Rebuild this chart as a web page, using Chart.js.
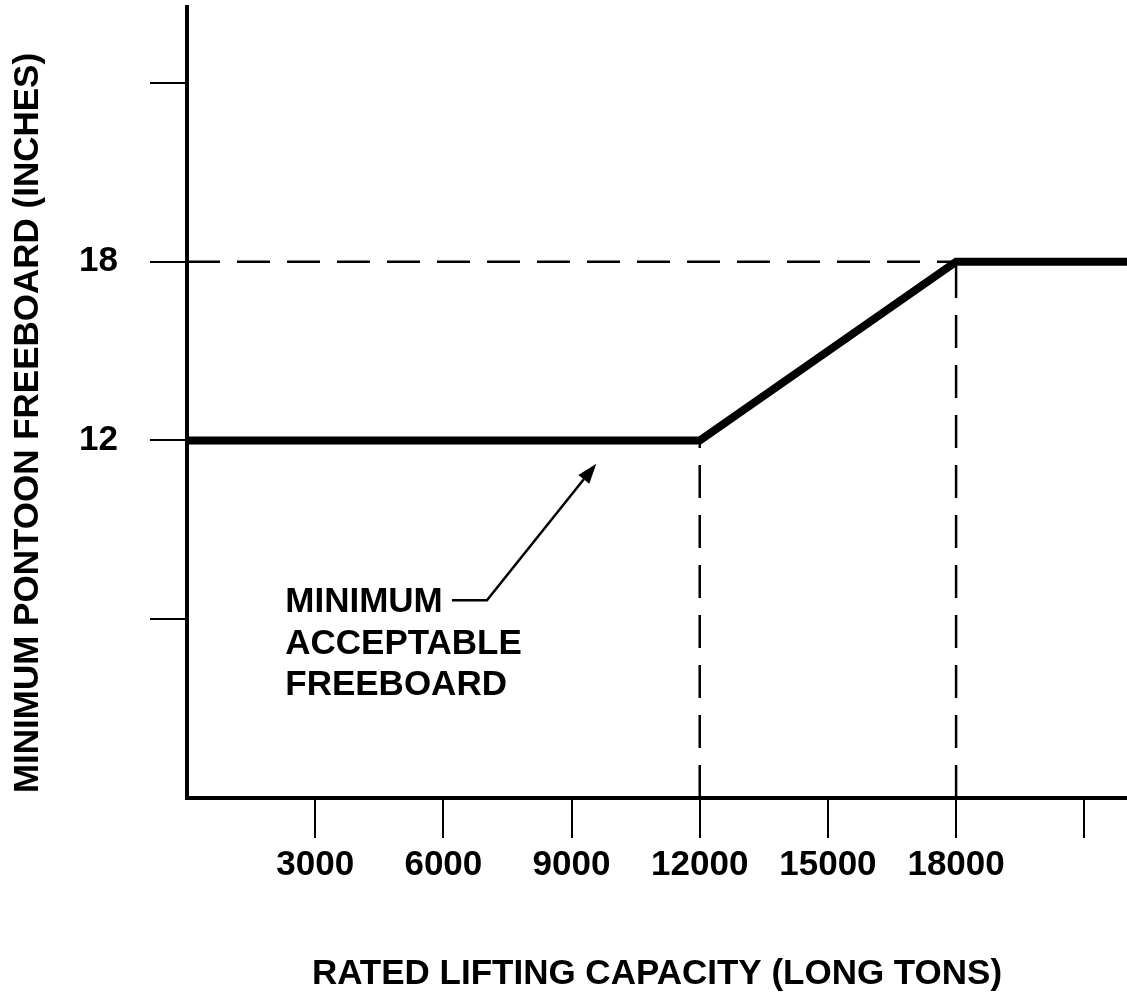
<!DOCTYPE html>
<html>
<head>
<meta charset="utf-8">
<script src="https://cdn.jsdelivr.net/npm/chart.js@4/dist/chart.umd.min.js"></script>
<style>
  body { margin: 0; background: #fff; }
  canvas { display: block; }
</style>
</head>
<body>
<canvas id="grafico" width="1127" height="1003"></canvas>
<script>
// dados
const capacidade = [0, 12000, 18000, 22000];
const folga = [12, 12, 18, 18];
const xMarcas = [3000, 6000, 9000, 12000, 15000, 18000, 21000];
const xRotulos = [3000, 6000, 9000, 12000, 15000, 18000];
const yMarcas = [6, 12, 18, 24];
const yRotulos = [12, 18];
const nota = ['MINIMUM', 'ACCEPTABLE', 'FREEBOARD'];
const tituloY = 'MINIMUM PONTOON FREEBOARD (INCHES)';

const FONTE = "'Liberation Sans', Arial, sans-serif";

const linha = capacidade.map((c, i) => ({ x: c, y: folga[i] }));
// linhas tracejadas de referencia nos pontos de quebra
const quebra1 = linha[1];
const quebra2 = linha[2];
const tracejado = {
  borderColor: '#000',
  borderWidth: 2.5,
  borderDash: [33, 17],
  pointRadius: 0,
  fill: false,
  showLine: true,
};

// texto e seta da nota + titulo do eixo y
const pluginNota = {
  id: 'nota',
  afterDatasetsDraw(chart) {
    const { ctx } = chart;
    const sx = chart.scales.x, sy = chart.scales.y;
    const px = v => sx.getPixelForValue(v);
    const py = v => sy.getPixelForValue(v);
    ctx.save();
    ctx.fillStyle = '#000';
    ctx.font = 'bold 35px ' + FONTE;
    ctx.textAlign = 'left';
    ctx.textBaseline = 'middle';
    nota.forEach((t, i) => ctx.fillText(t, px(2300), py(6.57 - i * 1.4)));

    ctx.strokeStyle = '#000';
    ctx.lineWidth = 2.5;
    const ini = [px(6200), py(6.64)];
    const meio = [px(7020), py(6.64)];
    const ponta = [px(9580), py(11.22)];
    const ang = Math.atan2(ponta[1] - meio[1], ponta[0] - meio[0]);
    const base = [ponta[0] - 20 * Math.cos(ang), ponta[1] - 20 * Math.sin(ang)];
    ctx.beginPath();
    ctx.moveTo(ini[0], ini[1]);
    ctx.lineTo(meio[0], meio[1]);
    ctx.lineTo(base[0], base[1]);
    ctx.stroke();
    ctx.beginPath();
    ctx.moveTo(ponta[0], ponta[1]);
    ctx.lineTo(base[0] + 7 * Math.sin(ang), base[1] - 7 * Math.cos(ang));
    ctx.lineTo(base[0] - 7 * Math.sin(ang), base[1] + 7 * Math.cos(ang));
    ctx.closePath();
    ctx.fill();

    // titulo do eixo y (deslocado para baixo como no original)
    ctx.translate(28, 423);
    ctx.rotate(-Math.PI / 2);
    ctx.textAlign = 'center';
    ctx.fillText(tituloY, 0, 0);
    ctx.restore();
  }
};

(() => {
  Chart.defaults.font.family = FONTE;
  Chart.defaults.font.size = 35;
  Chart.defaults.font.weight = 'bold';
  Chart.defaults.color = '#000';

  new Chart('grafico', {
    type: 'scatter',
    data: {
      datasets: [
        { ...tracejado, data: [{ x: 0, y: quebra2.y }, { x: quebra2.x, y: quebra2.y }] },
        { ...tracejado, data: [{ x: quebra1.x, y: 0 }, { x: quebra1.x, y: quebra1.y }] },
        { ...tracejado, data: [{ x: quebra2.x, y: 0 }, { x: quebra2.x, y: quebra2.y }] },
        {
          label: 'Minimum acceptable freeboard',
          data: linha,
          showLine: true,
          borderColor: '#000',
          borderWidth: 8,
          pointRadius: 0,
          fill: false,
        },
      ]
    },
    options: {
      responsive: false,
      animation: false,
      layout: { padding: { top: 7, left: 0, right: 0, bottom: 0 } },
      plugins: { legend: { display: false }, tooltip: { enabled: false } },
      scales: {
        x: {
          type: 'linear',
          min: 0,
          max: 22000,
          afterBuildTicks: s => { s.ticks = xMarcas.map(v => ({ value: v })); },
          afterFit: s => {
            s.height = 205;
            s.paddingLeft = 0;
            s.paddingRight = 0;
          },
          border: { display: true, color: '#000', width: 4 },
          grid: {
            drawOnChartArea: false,
            tickLength: 40,
            lineWidth: 2,
            color: '#000',
          },
          ticks: {
            autoSkip: false,
            maxRotation: 0,
            minRotation: 0,
            padding: 6,
            callback: v => xRotulos.includes(v) ? String(v) : '',
          },
          title: {
            display: true,
            text: 'RATED LIFTING CAPACITY (LONG TONS)',
            font: { size: 35, weight: 'bold' },
            padding: { top: 0, bottom: 8 },
          },
        },
        y: {
          type: 'linear',
          min: 0,
          max: 26.55,
          afterBuildTicks: s => { s.ticks = yMarcas.map(v => ({ value: v })); },
          afterFit: s => {
            s.width = 187;
            s.paddingTop = 0;
            s.paddingBottom = 0;
          },
          border: { display: true, color: '#000', width: 4 },
          grid: {
            drawOnChartArea: false,
            tickLength: 37,
            lineWidth: 2,
            color: '#000',
          },
          ticks: {
            autoSkip: false,
            padding: 32,
            callback: v => yRotulos.includes(v) ? String(v) : '',
          },
        },
      },
    },
    plugins: [pluginNota],
  });
})();
</script>
</body>
</html>
